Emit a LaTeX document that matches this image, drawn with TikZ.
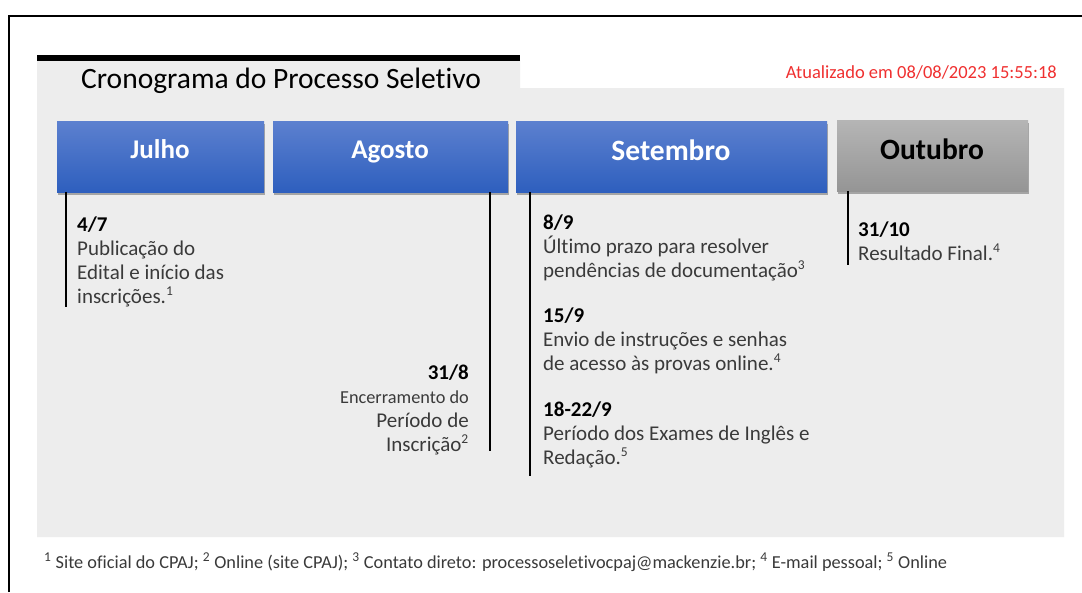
\documentclass[tikz,border=0pt]{standalone}
\usepackage{fontspec}
\setmainfont{Carlito}[Ligatures=NoCommon]
\usetikzlibrary{shadows,fadings}
\definecolor{bgray}{HTML}{EDEDED}
\definecolor{btop}{HTML}{5C80CF}
\definecolor{bbot}{HTML}{2E5FBE}
\definecolor{gtop}{HTML}{B5B5B5}
\definecolor{gbot}{HTML}{959595}
\definecolor{txt}{HTML}{3A3A3A}
\definecolor{upd}{HTML}{F03030}
\tikzset{
  month/.style={minimum height=71pt, inner sep=0pt, anchor=north west,
    top color=btop, bottom color=bbot, draw=none,
    drop shadow={shadow xshift=1pt, shadow yshift=-3pt, opacity=0.3, fill=black}},
  graymonth/.style={month, top color=gtop, bottom color=gbot},
  mlabel/.style={font=\fontsize{27}{30}\selectfont\bfseries, text=white, inner sep=0pt, anchor=base},
  tick/.style={line width=2.6pt, black},
  ev/.style={anchor=base west, inner sep=0pt, align=left, text=txt,
    font=\fontsize{21}{24}\selectfont},
  evr/.style={ev, anchor=base east, align=right}
}
\newcommand{\sn}[1]{\textsuperscript{\fontsize{13.5}{13.5}\selectfont #1}}
\newcommand{\dt}[1]{{\color{black}\bfseries #1}}
\begin{document}
\begin{tikzpicture}[x=1pt,y=-1pt]
\useasboundingbox (0,0) rectangle (1082,592);
\fill[white] (0,0) rectangle (1082,592);
% outer frame
\draw[line width=1.2pt] (9,592) -- (9,16) -- (1082,16);
% gray panel
\fill[bgray] (37,60) -- (520,60) -- (520,88) -- (1064,88) -- (1064,537) -- (37,537) -- cycle;
\fill[black] (37,55) rectangle (520,61);
\node[anchor=base west, inner sep=0pt, font=\fontsize{29.5}{32}\selectfont] (title) at (81,88) {Cronograma do Processo Seletivo};
\node[anchor=base east, inner sep=0pt, text=upd, font=\fontsize{18.5}{20}\selectfont] (upd) at (1057,78) {Atualizado em 08/08/2023 15:55:18};
% month boxes
\node[month, minimum width=207pt] (jul) at (57,121) {};
\node[month, minimum width=235pt] (ago) at (273,121) {};
\node[month, minimum width=311pt] (set) at (516,121) {};
\node[graymonth, minimum width=191pt] (out) at (837,120) {};
\node[mlabel] (julL) at (160,158) {Julho};
\node[mlabel] (agoL) at (390,158) {Agosto};
\node[mlabel, font=\fontsize{29.5}{32}\selectfont\bfseries] (setL) at (671,160) {Setembro};
\node[mlabel, text=black, font=\fontsize{29.5}{32}\selectfont\bfseries] (outL) at (932,159) {Outubro};
% ticks
\coordinate (t1) at (66,307);
\coordinate (t2) at (490,451);
\coordinate (t3) at (530,476);
\coordinate (t4) at (848,265);
\draw[tick] (jul.south west -| t1) -- (t1);
\draw[tick] (ago.south west -| t2) -- (t2);
\draw[tick] (set.south west -| t3) -- (t3);
\draw[tick] (out.south west -| t4) -- (t4);
% events (anchor = baseline of last line)
\node[ev] (e1) at (77,303) {\dt{4/7}\\Publicação do\\Edital e início das\\inscrições.\sn{1}};
\node[evr] (e2) at (469,451) {\dt{31/8}\\{\fontsize{18.3}{24}\selectfont Encerramento do}\\Período de\\Inscrição\sn{2}};
\node[ev] (e3) at (543,277) {\dt{8/9}\\Último prazo para resolver\\pendências de documentação\sn{3}};
\node[ev] (e4) at (543,370) {\dt{15/9}\\Envio de instruções e senhas\\de acesso às provas online.\sn{4}};
\node[ev] (e5) at (543,464) {\dt{18-22/9}\\Período dos Exames de Inglês e\\Redação.\sn{5}};
\node[ev] (e6) at (858,260) {\dt{31/10}\\Resultado Final.\sn{4}};
% footnote
\node[anchor=base west, inner sep=0pt, text=txt, font=\fontsize{18.3}{20}\selectfont] (fn) at (44,568)
 {\sn{1} Site oficial do CPAJ; \sn{2} Online (site CPAJ); \sn{3} Contato direto: processoseletivocpaj@mackenzie.br; \sn{4} E-mail pessoal; \sn{5} Online};
\end{tikzpicture}
\end{document}
